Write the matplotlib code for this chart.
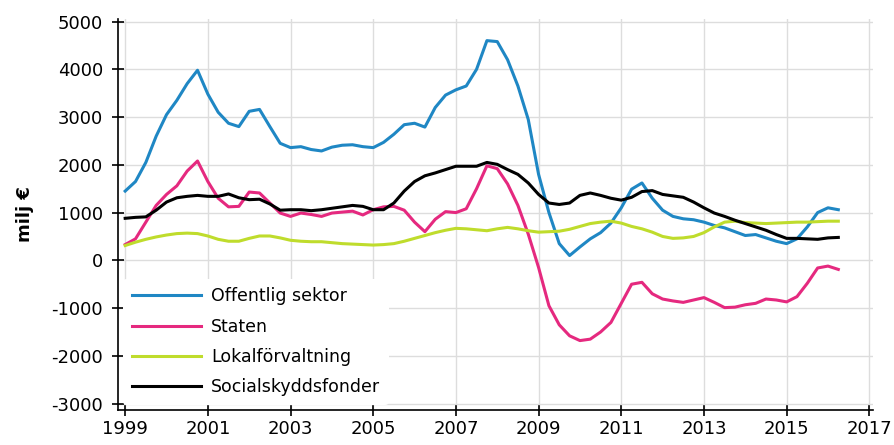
import numpy as np
import matplotlib.pyplot as plt

plt.rcParams["axes.unicode_minus"] = False

# kvartal 1999Q1 - 2016Q2
tid = 1999 + np.arange(70) / 4

offentlig_sektor = [
    1450, 1650, 2050, 2600, 3050, 3350, 3700, 3980,
    3480, 3100, 2870, 2800, 3120, 3160, 2800, 2450,
    2360, 2380, 2320, 2290, 2370, 2410, 2420, 2380,
    2360, 2470, 2640, 2840, 2870, 2790, 3200, 3460,
    3570, 3650, 4000, 4600, 4580, 4200, 3650, 2950,
    1800, 1000, 350, 100, 280, 450, 580, 780,
    1100, 1490, 1620, 1300, 1050, 920, 870, 850,
    800, 730, 680, 600, 520, 540, 470, 400,
    350, 450, 700, 1000, 1100, 1060,
]
staten = [
    330, 450, 800, 1150, 1380, 1560, 1870, 2080,
    1650, 1300, 1120, 1130, 1430, 1410, 1200, 990,
    920, 990, 960, 920, 990, 1010, 1030, 950,
    1060, 1120, 1130, 1050, 800, 600, 860, 1020,
    1000, 1080, 1500, 1980, 1920, 1600, 1150, 550,
    -150, -950, -1350, -1580, -1680, -1650, -1500, -1300,
    -900, -500, -460, -700, -810, -850, -880, -830,
    -780, -880, -990, -980, -930, -900, -810, -830,
    -870, -760, -480, -160, -120, -190,
]
lokalforvaltning = [
    310, 380, 440, 490, 530, 560, 570, 560,
    510, 440, 400, 400, 460, 510, 510, 470,
    420, 400, 390, 390, 370, 350, 340, 330,
    320, 330, 350, 400, 460, 520, 580, 630,
    670, 660, 640, 620, 660, 690, 660, 620,
    590, 600, 610, 650, 710, 770, 800, 820,
    780, 710, 660, 590, 500, 460, 470, 500,
    580, 700, 800, 820, 790, 780, 770, 780,
    790, 800, 800, 810, 820, 820,
]
socialskyddsfonder = [
    880, 900, 910, 1050, 1220, 1310, 1340, 1360,
    1340, 1340, 1390, 1310, 1270, 1280, 1180, 1050,
    1060, 1060, 1040, 1060, 1090, 1120, 1150, 1130,
    1060, 1060, 1200, 1450, 1650, 1770, 1830, 1900,
    1970, 1970, 1970, 2050, 2010, 1900, 1800, 1620,
    1380, 1200, 1170, 1200, 1360, 1410, 1360, 1300,
    1260, 1320, 1440, 1460, 1380, 1350, 1320, 1220,
    1100, 990, 920, 840, 770, 700, 630, 540,
    460, 460, 450, 440, 470, 480,
]

serier = [
    ("Offentlig sektor", offentlig_sektor, "#1f87c4"),
    ("Staten", staten, "#e5297f"),
    ("Lokalförvaltning", lokalforvaltning, "#bfdc2c"),
    ("Socialskyddsfonder", socialskyddsfonder, "#000000"),
]

fig = plt.figure(figsize=(8.95, 4.45), dpi=100)
ax = fig.add_axes([0.132, 0.079, 0.843, 0.878])

for namn, varden, farg in serier:
    ax.plot(tid, varden, color=farg, linewidth=2.2, label=namn)

ax.set_xlim(1998.83, 2017.08)
ax.set_ylim(-3130, 5050)
ax.set_xticks(np.arange(1999, 2018, 2))
ax.set_yticks(np.arange(-3000, 5001, 1000))
ax.grid(True, color="#dddddd", linewidth=1)
ax.set_axisbelow(True)

for s in ["top", "right"]:
    ax.spines[s].set_visible(False)
for s in ["left", "bottom"]:
    ax.spines[s].set_linewidth(1.2)
ax.tick_params(direction="inout", length=8, width=1.2, labelsize=13)
ax.tick_params(axis="y", pad=7)
ax.set_ylabel("milj €", fontsize=13, fontweight="bold", labelpad=12)

leg = ax.legend(loc="lower left", bbox_to_anchor=(0.0, 0.0), frameon=True,
                fontsize=12.5, handlelength=4.0, handletextpad=0.55,
                labelspacing=0.7, borderpad=0.5, borderaxespad=0.3)
leg.get_frame().set_edgecolor("none")
leg.get_frame().set_facecolor("white")
leg.get_frame().set_alpha(1)

fig.savefig("out.png", dpi=100)
